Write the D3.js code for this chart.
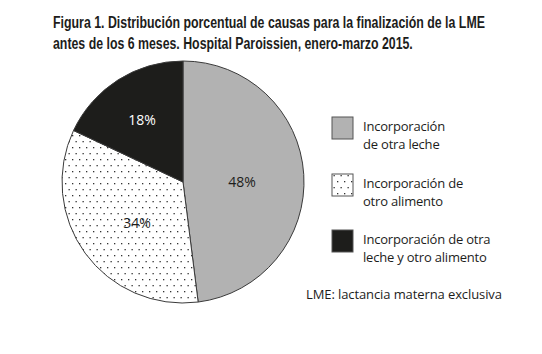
<!DOCTYPE html>
<html><head><meta charset="utf-8">
<script src="https://cdn.jsdelivr.net/npm/d3@7"></script>
<style>body{margin:0;background:#fff}svg{display:block}</style>
</head><body>
<script>
const categories = ["Incorporación de otra leche", "Incorporación de otro alimento", "Incorporación de otra leche y otro alimento"];
const values = [48, 34, 18];
const legendLines = [["Incorporación", "de otra leche"], ["Incorporación de", "otro alimento"], ["Incorporación de otra", "leche y otro alimento"]];
const titleLines = ["Figura 1. Distribución porcentual de causas para la finalización de la LME", "antes de los 6 meses. Hospital Paroissien, enero-marzo 2015."];
const footnote = "LME: lactancia materna exclusiva";

const W = 542, H = 354;
const svg = d3.select("body").append("svg").attr("width", W).attr("height", H);
const defs = svg.append("defs");
const pat = defs.append("pattern").attr("id", "dots").attr("patternUnits", "userSpaceOnUse")
  .attr("width", 7).attr("height", 12);
pat.append("rect").attr("width", 7).attr("height", 12).attr("fill", "#fff");
pat.append("rect").attr("x", 1).attr("y", 1).attr("width", 1.3).attr("height", 1.3).attr("fill", "#333");
pat.append("rect").attr("x", 4.5).attr("y", 7).attr("width", 1.3).attr("height", 1.3).attr("fill", "#333");

const fills = ["#b2b2b2", "url(#dots)", "#1d1d1b"];
const labelColors = ["#1d1d1b", "#1d1d1b", "#ffffff"];

// Title (condensed by horizontal scaling to match the reference widths)
const tW = [432, 360];
titleLines.forEach((t, i) => {
  const tx = svg.append("text").attr("x", 0).attr("y", 0)
    .attr("font-family", "Liberation Sans Narrow, Arial Narrow, Liberation Sans, sans-serif")
    .attr("font-weight", "bold").attr("font-size", 17).attr("fill", "#1d1d1b").text(t);
  const len = tx.node().getComputedTextLength();
  tx.attr("transform", `translate(53,${28 + i * 21}) scale(${tW[i] / len},1)`);
});

// Pie
const cx = 183, cy = 182, r = 121;
const pie = d3.pie().sort(null).value(d => d);
const arc = d3.arc().innerRadius(0).outerRadius(r);
const g = svg.append("g").attr("transform", `translate(${cx},${cy})`);
const arcs = pie(values);
g.selectAll("path").data(arcs).join("path")
  .attr("d", arc).attr("fill", (d, i) => fills[i])
  .attr("stroke", "#3a3a3a").attr("stroke-width", 1);
const labelPos = [[59, 0], [-46, 41], [-41, -62]];
g.selectAll("text.lbl").data(arcs).join("text").attr("class", "lbl")
  .attr("x", (d, i) => labelPos[i][0]).attr("y", (d, i) => labelPos[i][1] + 5)
  .attr("text-anchor", "middle").attr("font-family", "Open Sans, sans-serif").attr("font-size", 14)
  .attr("fill", (d, i) => labelColors[i]).text(d => d.data + "%");

// Legend
const ly = [117, 174, 230];
categories.forEach((c, i) => {
  svg.append("rect").attr("x", 332).attr("y", ly[i]).attr("width", 21).attr("height", 22)
    .attr("fill", fills[i]).attr("stroke", "#555").attr("stroke-width", 1);
  legendLines[i].forEach((l, j) => {
    svg.append("text").attr("x", 363).attr("y", ly[i] + 14 + j * 18)
      .attr("font-family", "Open Sans, sans-serif").attr("font-size", 13).attr("fill", "#1d1d1b")
      .attr("letter-spacing", -0.2).text(l);
  });
});

svg.append("text").attr("x", 306).attr("y", 299)
  .attr("font-family", "Open Sans, sans-serif").attr("font-size", 13).attr("fill", "#1d1d1b")
  .attr("letter-spacing", -0.1).text(footnote);
</script>
</body></html>
